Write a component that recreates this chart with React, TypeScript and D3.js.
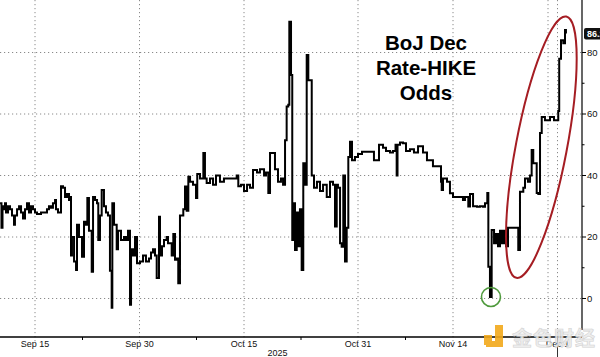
import React from 'react';
import * as d3 from 'd3';

// Trading-day index (0 = Sep 15 2025, weekends skipped) and BoJ Dec hike odds (%)
const tradingDay = [
  -3.68, -3.53, -3.42, -3.26, -3.16, -3.05, -2.84, -2.63, -2.42, -2.21, -2.11, -1.89, -1.68, -1.47, -1.26, -1.05,
  -0.84, -0.63, -0.42, -0.21, 0, 0.21, 0.63, 1.05, 1.26, 1.47, 1.68, 1.89, 2.11, 2.21, 2.42, 2.74, 2.95, 3.16, 3.37,
  3.58, 3.68, 3.79, 3.89, 4.11, 4.32, 4.42, 4.63, 4.95, 5.16, 5.37, 5.51, 5.68, 5.97, 6.11, 6.32, 6.53, 6.66, 6.84,
  7.02, 7.26, 7.47, 7.68, 7.89, 8.07, 8.14, 8.32, 8.6, 8.74, 9.05, 9.37, 9.58, 9.79, 10, 10.11, 10.32, 10.53, 10.74,
  11.05, 11.37, 11.68, 12, 12.21, 12.42, 12.63, 12.81, 13.05, 13.16, 13.37, 13.58, 13.86, 14, 14.39, 14.56, 14.74,
  14.95, 15.08, 15.26, 15.61, 15.79, 15.97, 16.14, 16.32, 16.63, 16.95, 17.08, 17.37, 17.72, 17.89, 18.07, 18.42,
  18.74, 19.05, 19.47, 19.89, 20.53, 21.23, 21.4, 21.68, 22, 22.32, 22.63, 22.81, 22.95, 23.37, 23.68, 24.11, 24.32,
  24.56, 24.74, 25.05, 25.26, 25.58, 25.89, 26.11, 26.32, 26.49, 26.66, 26.77, 26.95, 27.08, 27.19, 27.37, 27.55,
  27.72, 27.89, 28.07, 28.24, 28.42, 28.6, 28.77, 28.95, 29.13, 29.37, 29.68, 30, 30.32, 30.71, 31.05, 31.37, 31.58,
  31.76, 31.89, 32.11, 32.28, 32.45, 32.63, 32.81, 32.98, 33.16, 33.37, 33.68, 34, 34.42, 35.58, 35.68, 36.11, 36.21,
  36.63, 36.95, 37.37, 37.68, 37.95, 38.07, 38.16, 38.42, 38.74, 39.05, 39.47, 39.89, 40.32, 40.84, 41.26, 41.58,
  41.89, 42.42, 42.74, 42.81, 42.95, 43.37, 43.68, 44, 44.74, 45.05, 45.26, 45.61, 45.79, 46.11, 46.53, 46.84, 47.16,
  47.37, 47.61, 47.72, 47.89, 48.02, 48.07, 48.32, 48.53, 48.74, 48.95, 49.16, 49.37, 49.58, 49.79, 50.74, 50.87,
  51.05, 51.4, 51.58, 51.89, 52.11, 52.28, 52.45, 52.81, 52.98, 53.16, 53.34, 53.68, 54.21, 54.63, 54.95, 55.08,
  55.18, 55.37, 55.61, 55.79, 55.89,
];
const hikeOdds = [
  31, 23, 30, 29, 31, 28, 30, 29, 27, 24, 27, 29, 30, 28, 26, 29,
  31, 28, 30, 29, 28, 27.5, 28, 28, 29, 30, 29.5, 31, 32, 29, 28, 36.5, 36, 33, 34,
  32, 33, 14, 20, 12, 9.3, 24, 20, 13.6, 25, 24, 32.7, 22, 8.7, 33, 32, 31, 19, 27,
  35.3, 30, 28, 27, 9, -3, 31, 24, 16, 22, 19, 20, 19, 22, -2, 16, 14, 20, 11.5,
  12, 14, 12, 13, 15, 16, 14, 6.7, 26.6, 14, 17, 19, 20, 18, 14, 21, 12.6,
  13, 5, 27, 29, 36.4, 28.5, 39.6, 38, 37, 32.7, 40.5, 39, 47.3, 39, 37.6, 39,
  37, 40, 38, 39, 39, 40, 36.5, 37, 35, 37, 36, 36, 41.8, 41, 42, 40, 41,
  34.3, 47.3, 47.3, 42, 38, 39, 37, 51.5, 62.4, 63, 90, 72.7, 19, 31, 15.8, 28,
  17, 29, 9.3, 44, 37, 79.2, 71, 71, 40, 36, 38, 35, 37, 33, 38, 37, 23.4,
  37, 36, 18, 16.8, 40, 12, 23, 46, 51, 45, 46, 47, 47.7, 47.7, 45, 45, 50,
  49, 48, 47.5, 48, 50, 40, 50, 50.7, 50.5, 48, 48.5, 47.5, 49.5, 47.5, 45, 45,
  43, 43, 38, 35.3, 39, 38, 34.2, 33, 33, 32, 33, 29.9, 34, 30, 29.8, 30, 29.8,
  31, 34.3, 10.3, 0.5, 0.5, 22.3, 18, 21, 17, 22, 18, 22, 17, 23, 23, 15.8,
  34.7, 36, 39, 38, 40, 48.3, 44, 34.3, 34, 53.8, 59, 58, 59, 58, 58, 61,
  78, 84, 83, 87.3, 86.2,
];

const majorTickDays = [0, 11, 22, 34, 44, 55];
const majorTickLabels = ['Sep 15', 'Sep 30', 'Oct 15', 'Oct 31', 'Nov 14', 'Dec 1'];
const minorTickDays = [5, 17, 28, 39];
const extraGridDays = [54];
const yTicks = [0, 20, 40, 60, 80];
const yMinorTicks = [10, 30, 50, 70];
const yearLabel = '2025';
const titleLines = ['BoJ Dec', 'Rate-HIKE', 'Odds'];
const lastValueLabel = '86.2';
const surgeCenter = { day: 53.3, odds: 49.2 };

const W = 600;
const H = 357;
const PLOT_RIGHT = 582;
const AXIS_Y = 337;

export default function App() {
  const x = d3.scaleLinear().domain([-35 / 9.5, 547 / 9.5]).range([0, PLOT_RIGHT]);
  const y = d3.scaleLinear().domain([0, 80]).range([298.5, 52.5]);

  const pts = tradingDay.map((t, i) => [t, hikeOdds[i]] as [number, number]);
  const line = d3
    .line<[number, number]>()
    .x((d) => x(d[0]))
    .y((d) => y(d[1]))
    .curve(d3.curveStepAfter);

  // low point near Nov 21
  let lowIdx = 0;
  for (let i = 0; i < pts.length; i++) {
    if (pts[i][0] > 46 && pts[i][1] < pts[lowIdx][1] + (pts[lowIdx][0] > 46 ? 0 : 1000)) lowIdx = i;
  }
  const lowPt = pts[lowIdx];

  const grid = { stroke: '#8a8a8a', strokeWidth: 1, strokeDasharray: '1.2,2.8' } as const;
  const axisFont = '"Liberation Sans Narrow", "Liberation Sans", Arial, sans-serif';

  return (
    <svg
      width={W}
      height={H}
      viewBox={`0 0 ${W} ${H}`}
      style={{ position: 'absolute', left: 0, top: 0, display: 'block', background: '#fff' }}
    >
      <rect x={0} y={0} width={W} height={H} fill="#fff" />

      {/* horizontal grid */}
      {yTicks.map((v) => (
        <line key={'hg' + v} x1={0} x2={PLOT_RIGHT} y1={y(v)} y2={y(v)} {...grid} />
      ))}
      {/* vertical grid */}
      {majorTickDays.map((d) => (
        <line key={'vg' + d} x1={x(d)} x2={x(d)} y1={0} y2={AXIS_Y + 5} {...grid} />
      ))}
      {extraGridDays.map((d) => (
        <line key={'eg' + d} x1={x(d)} x2={x(d)} y1={0} y2={AXIS_Y} {...grid} />
      ))}

      {/* title */}
      <text
        x={426}
        textAnchor="middle"
        fontFamily='"Liberation Sans", Arial, sans-serif'
        fontWeight="bold"
        fontSize={20.5}
        fill="#000"
      >
        {titleLines.map((t, i) => (
          <tspan key={t} x={426} y={50 + i * 25}>
            {t}
          </tspan>
        ))}
      </text>

      {/* data line */}
      <path d={line(pts) || ''} fill="none" stroke="#000" strokeWidth={2} strokeLinejoin="miter" />

      {/* annotations */}
      <ellipse
        cx={x(surgeCenter.day)}
        cy={y(surgeCenter.odds)}
        rx={25.5}
        ry={133}
        transform={`rotate(10.8 ${x(surgeCenter.day)} ${y(surgeCenter.odds)})`}
        fill="none"
        stroke="#a51d23"
        strokeWidth={2}
      />
      <circle cx={x(lowPt[0]) + 1} cy={y(lowPt[1])} r={9.5} fill="none" stroke="#4f9a3d" strokeWidth={1.6} />

      {/* x axis */}
      <line x1={0} x2={PLOT_RIGHT} y1={AXIS_Y} y2={AXIS_Y} stroke="#000" strokeWidth={1.3} />
      {minorTickDays.map((d) => (
        <line key={'mt' + d} x1={x(d)} x2={x(d)} y1={AXIS_Y} y2={AXIS_Y + 3} stroke="#000" strokeWidth={1} />
      ))}
      <line x1={x(55)} x2={x(55)} y1={AXIS_Y} y2={H} stroke="#333" strokeWidth={1} />
      {majorTickDays.map((d, i) => (
        <text
          key={'xl' + d}
          x={x(d)}
          y={346.5}
          textAnchor="middle"
          fontFamily={axisFont}
          fontSize={9}
          fill="#111"
        >
          {majorTickLabels[i]}
        </text>
      ))}
      <text x={277.5} y={355.7} textAnchor="middle" fontFamily={axisFont} fontSize={9} fill="#111">
        {yearLabel}
      </text>

      {/* y axis */}
      <line x1={PLOT_RIGHT} x2={PLOT_RIGHT} y1={0} y2={330} stroke="#000" strokeWidth={1.2} />
      {yTicks.map((v) => (
        <g key={'yt' + v}>
          <line x1={PLOT_RIGHT} x2={PLOT_RIGHT + 4} y1={y(v)} y2={y(v)} stroke="#000" strokeWidth={1} />
          <text
            x={PLOT_RIGHT + 5}
            y={y(v) + 3.3}
            fontFamily={axisFont}
            fontSize={9.5}
            fill="#111"
          >
            {v}
          </text>
        </g>
      ))}
      {yMinorTicks.map((v) => (
        <line key={'ym' + v} x1={PLOT_RIGHT} x2={PLOT_RIGHT + 2.5} y1={y(v)} y2={y(v)} stroke="#000" strokeWidth={1} />
      ))}

      {/* last value badge */}
      <g>
        <rect x={584} y={y(86.2) - 5.5} width={22} height={11.5} rx={2} fill="#111" />
        <text
          x={587}
          y={y(86.2) + 3.5}
          fontFamily={axisFont}
          fontWeight="bold"
          fontSize={9}
          fill="#fff"
        >
          {lastValueLabel}
        </text>
      </g>

      {/* watermark */}
      <g opacity={0.9}>
        <rect x={484} y={335} width={8} height={10} fill="#f2a91b" />
        <path d="M495 325 h8 v22 h-17 v-6 h9 z" fill="#f2a91b" />
        <text
          x={512}
          y={346}
          fontFamily='"Noto Sans CJK SC", sans-serif'
          fontSize={20}
          fontWeight="bold"
          fill="#ececec"
          stroke="#cfcfcf"
          strokeWidth={0.6}
          letterSpacing={1}
        >
          金色财经
        </text>
      </g>
    </svg>
  );
}
